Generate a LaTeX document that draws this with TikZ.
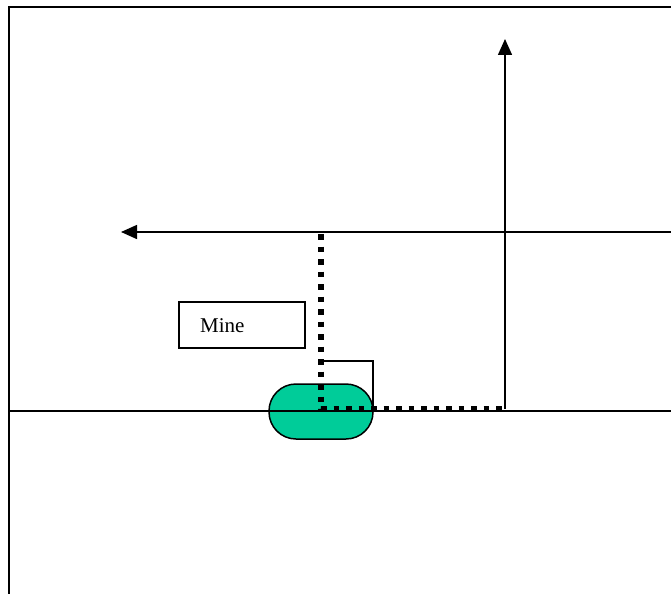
\documentclass[tikz,border=0pt]{standalone}
\usepackage{fontspec}
\setmainfont{Liberation Serif}
\usetikzlibrary{arrows.meta}
\definecolor{minegreen}{HTML}{00CC99}
\begin{document}
\begin{tikzpicture}[x=1pt,y=-1pt,
  thinline/.style={line width=1.5pt},
  frameline/.style={line width=2.2pt},
  dotline/.style={line width=5.5pt,dash pattern=on 5.5pt off 7pt},
  arr/.style={-{Triangle[length=16pt,width=14pt]}},
  lbox/.style={draw,line width=1.5pt,minimum width=126pt,minimum height=46pt,inner sep=0pt},
  mine/.style={draw=black,line width=1.5pt,fill=minegreen,rounded corners=27pt,minimum width=104pt,minimum height=55pt,inner sep=0pt}]
\useasboundingbox (0,0) rectangle (671,594);
\fill[white] (0,0) rectangle (671,594);
% frame
\coordinate (ftl) at (9,7);
\coordinate (ftr) at (671,7);
\coordinate (fbl) at (9,594);
\draw[frameline] (ftr) -- (ftl) -- (fbl);
% ground line
\coordinate (gl) at (9,411);
\coordinate (gr) at (671,411);
% mine body
\node[mine] (m) at (321,411.5) {};
\draw[thinline] (gl) -- (gr);
% horizontal arrow
\coordinate (hr) at (671,232);
\coordinate (hl) at (121,232);
\draw[thinline,arr] (hr) -- (hl);
% vertical arrow
\coordinate (vb) at (505,409);
\coordinate (vt) at (505,39);
\draw[thinline,arr] (vb) -- (vt);
% dotted path
\coordinate (d1) at (321,234);
\coordinate (d2) at (321,409);
\coordinate (d3) at (503,409);
\draw[dotline] (d1) -- (d2) -- (d3);
% thin bracket
\coordinate (b1) at (323,361);
\coordinate (b2) at (373,361);
\coordinate (b3) at (373,410);
\draw[thinline] (b1) -- (b2) -- (b3);
% label box
\node[lbox] (lb) at (242,325) {};
\node[anchor=base west,font=\fontsize{21}{25}\selectfont,inner sep=0pt] (lt) at (200,332) {Mine};
\end{tikzpicture}
\end{document}
